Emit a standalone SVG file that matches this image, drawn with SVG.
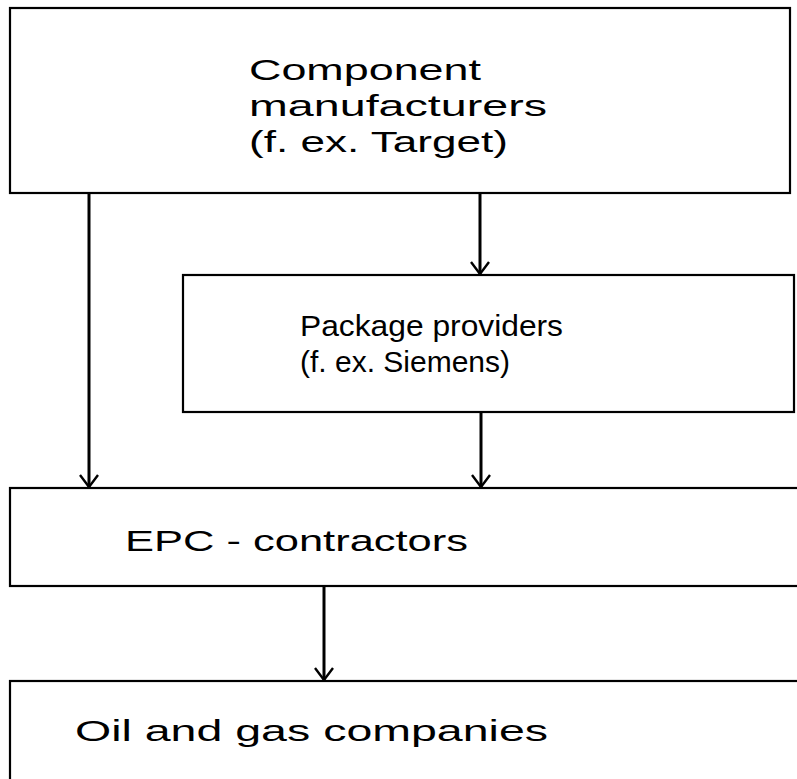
<svg xmlns="http://www.w3.org/2000/svg" width="797" height="779" viewBox="0 0 797 779">
<defs>
<marker id="arr" viewBox="0 0 20 20" refX="18" refY="10" markerWidth="20" markerHeight="20" markerUnits="userSpaceOnUse" orient="auto">
<path d="M6,1 L18,10 L6,19" fill="none" stroke="#000" stroke-width="2.4"/>
</marker>
</defs>
<style>
.box{fill:#fff;stroke:#000;stroke-width:2.2}
.lbl{font-family:"Liberation Sans",Arial,sans-serif;font-size:30px;fill:#000}
.con{stroke:#000;stroke-width:3;fill:none}
</style>
<rect width="797" height="779" fill="#fff"/>
<g id="connectors">
<line class="con" x1="89" y1="193" x2="89" y2="487" marker-end="url(#arr)"/>
<line class="con" x1="480" y1="193" x2="480" y2="274" marker-end="url(#arr)"/>
<line class="con" x1="481" y1="412" x2="481" y2="487" marker-end="url(#arr)"/>
<line class="con" x1="324" y1="586" x2="324" y2="680" marker-end="url(#arr)"/>
</g>
<g id="component-manufacturers">
<rect class="box" x="10" y="8" width="780" height="185"/>
<text class="lbl" x="249" y="80" textLength="232" lengthAdjust="spacingAndGlyphs">Component</text>
<text class="lbl" x="249" y="116" textLength="298" lengthAdjust="spacingAndGlyphs">manufacturers</text>
<text class="lbl" x="249" y="152" textLength="259" lengthAdjust="spacingAndGlyphs">(f. ex. Target)</text>
</g>
<g id="package-providers">
<rect class="box" x="183" y="275" width="611" height="137"/>
<text class="lbl" x="300" y="336" textLength="263" lengthAdjust="spacingAndGlyphs">Package providers</text>
<text class="lbl" x="300" y="372" textLength="210" lengthAdjust="spacingAndGlyphs">(f. ex. Siemens)</text>
</g>
<g id="epc-contractors">
<rect class="box" x="10" y="488" width="800" height="98"/>
<text class="lbl" x="125" y="551" textLength="343" lengthAdjust="spacingAndGlyphs">EPC - contractors</text>
</g>
<g id="oil-and-gas">
<rect class="box" x="10" y="681" width="800" height="120"/>
<text class="lbl" x="75" y="741" textLength="473" lengthAdjust="spacingAndGlyphs">Oil and gas companies</text>
</g>
</svg>
